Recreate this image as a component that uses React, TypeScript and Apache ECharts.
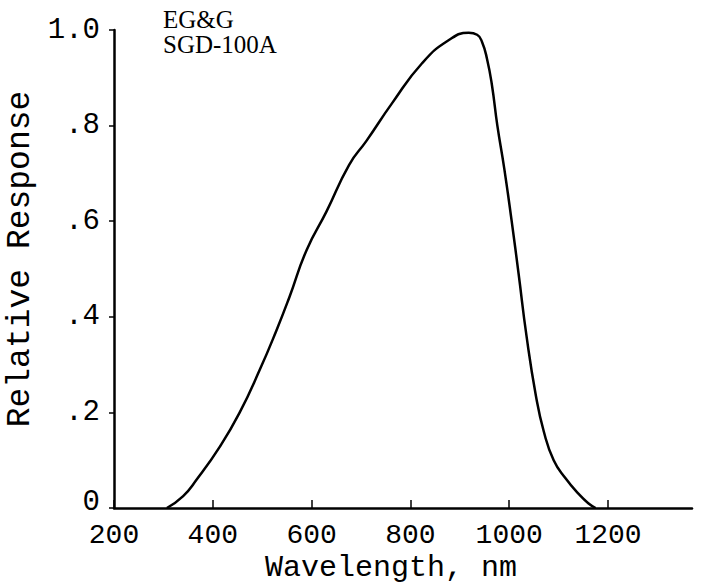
import React, { useEffect, useRef } from "react";
import * as echarts from "echarts";

const wavelengths = [307, 340, 367, 414, 454, 495, 529, 555, 590, 630, 676, 711, 763, 824, 878, 918, 935, 945, 955, 965, 976, 990, 1005, 1019, 1035, 1054, 1070, 1090, 1114, 1140, 1160, 1175];
const response = [0, 0.025, 0.059, 0.128, 0.199, 0.289, 0.372, 0.441, 0.54, 0.62, 0.718, 0.768, 0.847, 0.931, 0.979, 0.994, 0.99, 0.975, 0.94, 0.885, 0.8, 0.71, 0.6, 0.49, 0.36, 0.235, 0.16, 0.1, 0.062, 0.03, 0.01, 0];
const xTicks = [200, 400, 600, 800, 1000, 1200];
const yTickLabels: Record<string, string> = { "0": "{z|0}", "0.2": ".2", "0.4": ".4", "0.6": ".6", "0.8": ".8", "1": "1.0" };
const xTitle = "Wavelength, nm";
const yTitle = "Relative Response";
const noteLines = ["EG&G", "SGD-100A"];

export default function App() {
  const ref = useRef<HTMLDivElement>(null);
  useEffect(() => {
    if (!ref.current) return;
    const chart = echarts.init(ref.current, null, { renderer: "svg" });
    const mono = "'Liberation Mono', 'Courier New', monospace";
    chart.setOption({
      animation: false,
      backgroundColor: "#fff",
      grid: { left: 114, right: 12, top: 30, bottom: 77, outerBoundsMode: "none", containLabel: false },
      xAxis: {
        type: "value",
        min: 200,
        max: 1370,
        interval: 200,
        axisLine: { lineStyle: { color: "#000", width: 2.5 } },
        axisTick: { inside: true, length: 8, lineStyle: { color: "#000", width: 1.5 } },
        splitLine: { show: false },
        axisLabel: {
          color: "#000",
          fontFamily: mono,
          fontSize: 28,
          margin: 13,
          showMaxLabel: false,
          formatter: (v: number) => (xTicks.includes(v) ? String(v) : ""),
        },
        name: xTitle,
        nameLocation: "middle",
        nameGap: 45,
        nameMoveOverlap: false,
        nameTextStyle: { color: "#000", fontFamily: mono, fontSize: 30, padding: [0, 24, 0, 0] },
      },
      yAxis: {
        type: "value",
        min: 0,
        max: 1,
        interval: 0.2,
        axisLine: { lineStyle: { color: "#000", width: 2.5 } },
        axisTick: { length: 5, lineStyle: { color: "#000", width: 1.5 } },
        splitLine: { show: false },
        axisLabel: {
          color: "#000",
          fontFamily: mono,
          fontSize: 29,
          margin: 14,
          formatter: (v: number) => yTickLabels[String(Math.round(v * 10) / 10)] ?? "",
          rich: {
            z: { color: "#000", fontFamily: mono, fontSize: 29, padding: [0, 0, 12, 0] },
          },
        },
        name: yTitle,
        nameLocation: "middle",
        nameGap: 77,
        nameMoveOverlap: false,
        nameTextStyle: { color: "#000", fontFamily: mono, fontSize: 33, padding: [0, 0, 0, 20] },
      },
      graphic: noteLines.map((line, i) => ({
        type: "text",
        left: 163,
        top: 7 + i * 25,
        style: {
          text: line,
          fill: "#000",
          fontFamily: "'Liberation Serif', 'Times New Roman', serif",
          fontSize: 25,
        },
      })),
      series: [
        {
          type: "line",
          data: wavelengths.map((w, i) => [w, response[i]]),
          smooth: 0.5,
          showSymbol: false,
          lineStyle: { color: "#000", width: 2.5 },
        },
      ],
    });
    return () => chart.dispose();
  }, []);
  return <div ref={ref} style={{ position: "fixed", left: 0, top: 0, width: 704, height: 585 }} />;
}
